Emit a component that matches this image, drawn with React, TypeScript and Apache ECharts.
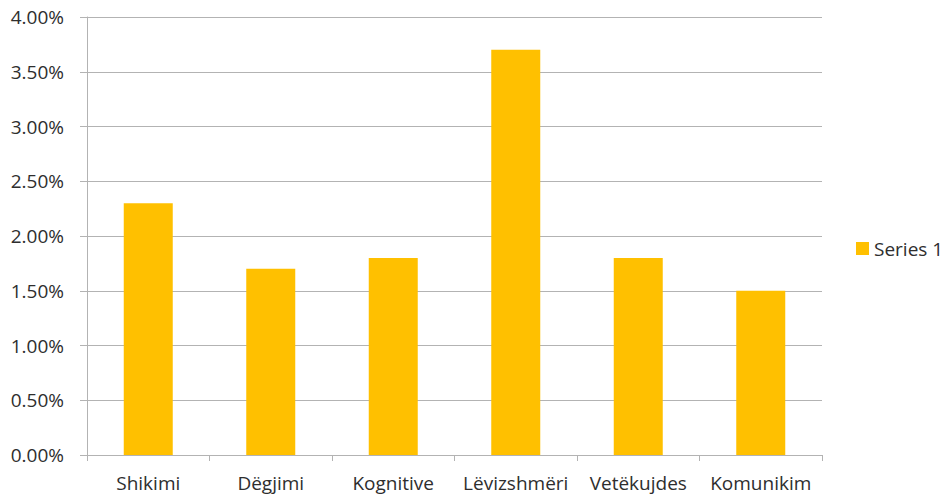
import React, { useEffect, useRef } from "react";
import * as echarts from "echarts";

const categories = ["Shikimi", "Dëgjimi", "Kognitive", "Lëvizshmëri", "Vetëkujdes", "Komunikim"];
const seriesName = "Series 1";
const values = [2.3, 1.7, 1.8, 3.7, 1.8, 1.5];
const yMin = 0;
const yMax = 4;
const yInterval = 0.5;

const FONT = "'Open Sans', sans-serif";
const TEXT = "#2e2e2e";
const LINE = "#b3b3b3";

export default function App() {
  const ref = useRef<HTMLDivElement>(null);
  useEffect(() => {
    if (!ref.current) return;
    const chart = echarts.init(ref.current, undefined, { renderer: "svg" });
    chart.setOption({
      animation: false,
      backgroundColor: "#ffffff",
      grid: { left: 87, right: 125, top: 17, bottom: 42, containLabel: false },
      legend: {
        data: [seriesName],
        left: 851,
        top: "middle",
        orient: "vertical",
        icon: "rect",
        itemWidth: 13,
        itemHeight: 13,
        textStyle: { fontFamily: FONT, fontSize: 19, color: TEXT },
      },
      xAxis: {
        type: "category",
        data: categories,
        axisLine: { show: true, lineStyle: { color: LINE, width: 1 } },
        axisTick: { show: true, length: 6, lineStyle: { color: LINE }, alignWithLabel: false },
        axisLabel: { fontFamily: FONT, fontSize: 19, color: TEXT, margin: 18, interval: 0 },
      },
      yAxis: {
        type: "value",
        min: yMin,
        max: yMax,
        interval: yInterval,
        axisLine: { show: true, lineStyle: { color: LINE, width: 1 } },
        axisTick: { show: true, length: 7, lineStyle: { color: LINE } },
        splitLine: { show: true, lineStyle: { color: LINE, width: 1 } },
        axisLabel: {
          fontFamily: FONT,
          fontSize: 19,
          color: TEXT,
          margin: 23,
          formatter: (v: number) => v.toFixed(2) + "%",
        },
      },
      series: [
        {
          name: seriesName,
          type: "bar",
          data: values,
          barWidth: "40%",
          itemStyle: { color: "#FFC000" },
        },
      ],
    });
    return () => chart.dispose();
  }, []);
  return <div ref={ref} style={{ width: 947, height: 497, position: "absolute", left: 0, top: 0 }} />;
}
